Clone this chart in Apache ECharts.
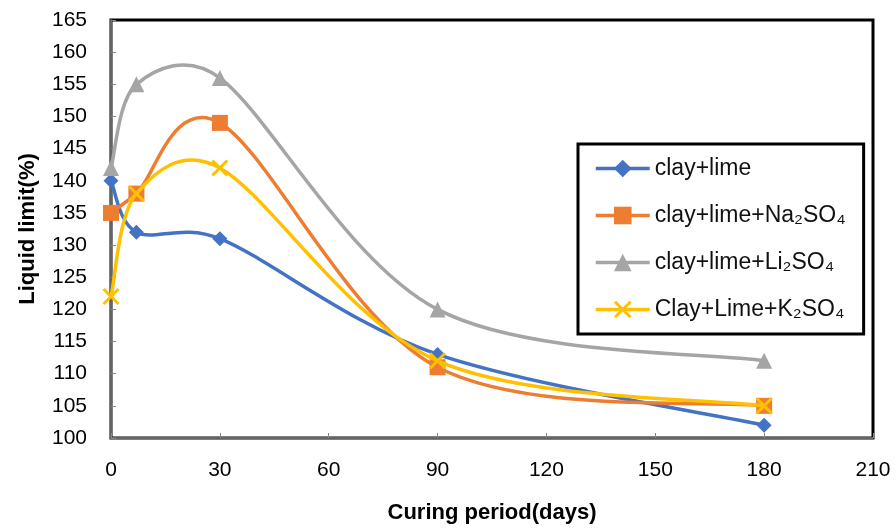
<!DOCTYPE html>
<html><head><meta charset="utf-8">
<script src="https://cdn.jsdelivr.net/npm/echarts@6/dist/echarts.min.js"></script>
<style>html,body{margin:0;padding:0;background:#fff}#c{width:896px;height:529px}</style>
</head><body><div id="c"></div>
<script>
const days = [0, 7, 30, 90, 180];
const clayLime = [140, 132, 131, 113, 102];
const clayLimeNa = [135, 138, 149, 111, 105];
const clayLimeLi = [142, 155, 156, 120, 112];
const clayLimeK = [122, 138, 142, 112, 105];
const seriesNames = ['clay+lime', 'clay+lime+Na₂SO₄', 'clay+lime+Li₂SO₄', 'Clay+Lime+K₂SO₄'];
const colors = ['#4472C4', '#ED7D31', '#A5A5A5', '#FFC000'];
const xTitle = 'Curing period(days)';
const yTitle = 'Liquid limit(%)';

const FONT = 'Liberation Sans';
const xMark = 'path://M0,1.2L1.2,0L5,3.8L8.8,0L10,1.2L6.2,5L10,8.8L8.8,10L5,6.2L1.2,10L0,8.8L3.8,5Z';
const symbols = ['diamond', 'rect', 'triangle', xMark];
const symSizes = [15, 16, 16, 17];
const values = [clayLime, clayLimeNa, clayLimeLi, clayLimeK];

function dist(a, b) { return Math.hypot(a[0] - b[0], a[1] - b[1]); }
// Excel-like smoothed curve (clamped Catmull-Rom -> cubic Bezier) in pixel space via the chart's scales
function smoothPath(pts) {
  let d = 'M' + pts[0][0] + ' ' + pts[0][1];
  for (let i = 0; i < pts.length - 1; i++) {
    const p0 = pts[i - 1] || pts[i], p1 = pts[i], p2 = pts[i + 1], p3 = pts[i + 2] || pts[i + 1];
    const d12 = dist(p1, p2), d02 = dist(p0, p2), d13 = dist(p1, p3);
    let f0 = 1 / 6, f3 = 1 / 6;
    if (d02 > 0 && d02 / 6 > d12 / 2) f0 = d12 / (2 * d02);
    if (d13 > 0 && d13 / 6 > d12 / 2) f3 = d12 / (2 * d13);
    const c1 = [p1[0] + (p2[0] - p0[0]) * f0, p1[1] + (p2[1] - p0[1]) * f0];
    const c2 = [p2[0] - (p3[0] - p1[0]) * f3, p2[1] - (p3[1] - p1[1]) * f3];
    d += ' C' + c1[0] + ' ' + c1[1] + ' ' + c2[0] + ' ' + c2[1] + ' ' + p2[0] + ' ' + p2[1];
  }
  return d;
}

const series = [];
seriesNames.forEach((n, i) => {
  const vals = values[i];
  series.push({
    name: n + ' curve', type: 'custom', z: 2 + 2 * i, silent: true,
    data: days.map((d, j) => [d, vals[j]]),
    encode: { x: 0, y: 1 },
    renderItem: (params, api) => {
      if (params.dataIndex !== 0) return null;
      const pts = days.map((d, j) => api.coord([d, vals[j]]));
      return { type: 'path', shape: { pathData: smoothPath(pts) },
        style: { fill: 'none', stroke: colors[i], lineWidth: 3.5, lineJoin: 'round', lineCap: 'round' } };
    }
  });
  series.push({
    name: n, type: 'line', z: 3 + 2 * i,
    data: days.map((d, j) => [d, vals[j]]),
    symbol: symbols[i], symbolSize: symSizes[i],
    lineStyle: { width: 3.5, color: colors[i], opacity: 0 },
    itemStyle: { color: colors[i] }
  });
});

const chart = echarts.init(document.getElementById('c'));
chart.setOption({
  animation: false,
  backgroundColor: '#fff',
  color: colors,
  grid: { left: 111, top: 20, right: 23, bottom: 89, show: true, borderColor: '#000', borderWidth: 3, backgroundColor: 'transparent' },
  legend: {
    orient: 'vertical', left: 578, top: 144,
    padding: [13, 18, 13, 16],
    itemGap: 24, itemWidth: 54, itemHeight: 22,
    borderColor: '#000', borderWidth: 3, backgroundColor: '#fff',
    lineStyle: { width: 3.5, opacity: 1 },
    textStyle: { fontFamily: FONT, fontSize: 23, color: '#111' },
    data: seriesNames
  },
  xAxis: {
    type: 'value', min: 0, max: 210, interval: 30,
    name: xTitle, nameLocation: 'middle', nameGap: 64,
    nameTextStyle: { fontFamily: FONT, fontSize: 22, fontWeight: 'bold', color: '#000' },
    axisLine: { show: true, lineStyle: { color: '#868686', width: 1.5 } },
    axisTick: { show: true, inside: true, length: 5, lineStyle: { color: '#868686' } },
    axisLabel: { fontFamily: FONT, fontSize: 21, color: '#000', margin: 22 },
    splitLine: { show: false }
  },
  yAxis: {
    type: 'value', min: 100, max: 165, interval: 5,
    name: yTitle, nameLocation: 'middle', nameGap: 72, nameRotate: 90,
    nameTextStyle: { fontFamily: FONT, fontSize: 22, fontWeight: 'bold', color: '#000' },
    axisLine: { show: true, lineStyle: { color: '#868686', width: 1.5 } },
    axisTick: { show: true, inside: true, length: 5, lineStyle: { color: '#868686' } },
    axisLabel: { fontFamily: FONT, fontSize: 21, color: '#000', margin: 24 },
    splitLine: { show: false }
  },
  series: series
});
</script></body></html>
